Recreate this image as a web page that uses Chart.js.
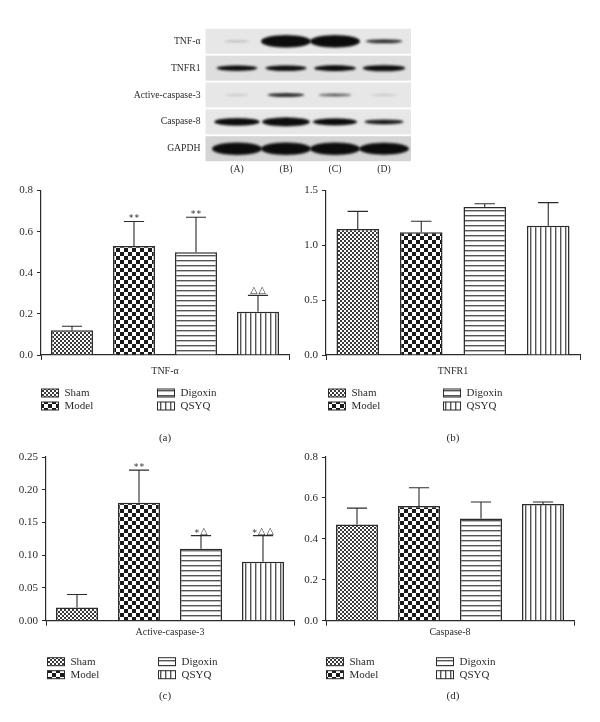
<!DOCTYPE html>
<html><head><meta charset="utf-8">
<script src="https://cdn.jsdelivr.net/npm/chart.js@4"></script>
<style>
html,body{margin:0;padding:0;background:#fff;width:600px;height:722px;overflow:hidden}
canvas{position:absolute;display:block;filter:blur(0.3px)}
</style></head><body>
<canvas id="blot" style="left:100px;top:10px" width="330" height="170"></canvas>
<canvas id="a" style="left:0;top:180px" width="330" height="265"></canvas>
<canvas id="b" style="left:300px;top:180px" width="300" height="265"></canvas>
<canvas id="c" style="left:0;top:445px" width="330" height="270"></canvas>
<canvas id="d" style="left:300px;top:445px" width="300" height="270"></canvas>
<script>
// ---- data ----
const groups = ["Sham", "Model", "Digoxin", "QSYQ"];
const lanes = ["(A)", "(B)", "(C)", "(D)"];
const proteins = ["TNF-α", "TNFR1", "Active-caspase-3", "Caspase-8", "GAPDH"];
const bandTNFa = [0.08, 1.0, 1.0, 0.42];
const bandTNFR1 = [0.55, 0.58, 0.6, 0.62];
const bandActive = [0.02, 0.42, 0.3, 0.03];
const bandCasp8 = [0.72, 0.8, 0.68, 0.5];
const bandGAPDH = [1.0, 1.0, 1.0, 0.98];
const meanA = [0.12, 0.53, 0.50, 0.21];
const errA = [0.14, 0.65, 0.67, 0.29];
const markA = ["", "**", "**", "△△"];
const meanB = [1.15, 1.12, 1.35, 1.18];
const errB = [1.31, 1.22, 1.38, 1.39];
const markB = ["", "", "", ""];
const meanC = [0.02, 0.18, 0.11, 0.09];
const errC = [0.04, 0.23, 0.13, 0.13];
const markC = ["", "**", "*△", "*△△"];
const meanD = [0.47, 0.56, 0.50, 0.57];
const errD = [0.55, 0.65, 0.58, 0.58];
const markD = ["", "", "", ""];

const FONT = "'Liberation Serif', serif";
const INK = "#2b2b2b";

// ---- fill patterns ----
function pattern(w, h, draw) {
  const c = document.createElement("canvas"); c.width = w; c.height = h;
  const x = c.getContext("2d"); x.fillStyle = "#fff"; x.fillRect(0, 0, w, h);
  x.fillStyle = "#1a1a1a"; draw(x);
  return document.createElement("canvas").getContext("2d").createPattern(c, "repeat");
}
const fills = [
  pattern(4, 4, x => { x.fillStyle = "#3a3a3a"; x.fillRect(0, 0, 2, 2); x.fillRect(2, 2, 2, 2); }),
  pattern(8, 8, x => { x.fillRect(0, 0, 4, 4); x.fillRect(4, 4, 4, 4); }),
  pattern(1, 5, x => { x.fillStyle = "#555"; x.fillRect(0, 0, 1, 1); x.fillStyle = "#bbb"; x.fillRect(0, 1, 1, 1); }),
  pattern(5, 1, x => { x.fillStyle = "#555"; x.fillRect(0, 0, 1, 1); x.fillStyle = "#bbb"; x.fillRect(1, 0, 1, 1); })
];

// ---- plugins ----
const errorBars = {
  id: "errorBars",
  afterDatasetsDraw(ch, _a, o) {
    const g = ch.ctx, y = ch.scales.y;
    g.save();
    ch.data.datasets.forEach((ds, i) => {
      const el = ch.getDatasetMeta(i).data[0];
      const top = y.getPixelForValue(o.tops[i]);
      const half = el.width * 0.24;
      g.strokeStyle = INK; g.lineWidth = 1.1;
      g.beginPath();
      g.moveTo(el.x, el.y); g.lineTo(el.x, top);
      g.moveTo(el.x - half, top); g.lineTo(el.x + half, top);
      g.stroke();
      const chars = Array.from(o.marks[i]);
      if (chars.length) {
        g.fillStyle = INK; g.textAlign = "left"; g.textBaseline = "alphabetic";
        g.font = "9.5px 'DejaVu Sans', " + FONT;
        const gap = 1;
        const total = chars.reduce((s, c) => s + g.measureText(c).width + gap, -gap);
        let px = el.x - total / 2;
        chars.forEach(c => {
          g.fillText(c, px, c === "*" ? top : top - 2);
          px += g.measureText(c).width + gap;
        });
      }
    });
    g.restore();
  }
};
const twoColumnLegend = {
  id: "twoColumnLegend",
  afterDraw(ch, _a, o) {
    const g = ch.ctx;
    g.save();
    g.font = "11px " + FONT; g.textBaseline = "middle"; g.textAlign = "left";
    ch.data.datasets.forEach((ds, i) => {
      const col = i < 2 ? o.x1 : o.x2;
      const yc = ch.chartArea.bottom + o.dy + (i % 2) * 13;
      g.fillStyle = ds.backgroundColor;
      g.fillRect(col, yc - 4, 17, 8);
      g.strokeStyle = INK; g.lineWidth = 1;
      g.strokeRect(col + .5, yc - 4, 17, 8);
      g.fillStyle = INK;
      g.fillText(ds.label, col + 23.5, yc);
    });
    g.restore();
  }
};
const captionShift = {
  id: "captionShift",
  afterLayout(ch, _a, o) {
    ch.titleBlock.left += o.dx;
    ch.titleBlock.right += o.dx;
  }
};

function barPanel(id, opt) {
  const el = document.getElementById(id);
  new Chart(el, {
    type: "bar",
    plugins: [errorBars, twoColumnLegend, captionShift],
    data: {
      labels: [opt.name],
      datasets: groups.map((g, i) => ({
        label: g, data: [opt.mean[i]],
        backgroundColor: fills[i], borderColor: INK, borderWidth: 1.5,
        categoryPercentage: 1, barPercentage: opt.barPct
      }))
    },
    options: {
      responsive: false, animation: false, devicePixelRatio: 1,
      layout: { autoPadding: false, padding: { top: opt.top, right: el.width - opt.right, left: 0, bottom: 0 } },
      plugins: {
        legend: { display: false }, tooltip: { enabled: false },
        title: { display: true, text: opt.caption, position: "bottom", fullSize: false, color: INK,
                 font: { family: FONT, size: 11, weight: "normal" },
                 padding: { top: opt.capTop, bottom: opt.capBottom } },
        errorBars: { tops: opt.err, marks: opt.mark },
        twoColumnLegend: { x1: opt.lx1, x2: opt.lx2, dy: opt.ldy },
        captionShift: { dx: opt.capDx }
      },
      scales: {
        x: {
          grid: { display: true, drawOnChartArea: false, tickLength: 5, color: INK, lineWidth: 1 },
          border: { color: INK, width: 1.2 },
          ticks: { color: INK, font: { family: FONT, size: 10 }, padding: opt.xPad, maxRotation: 0 },
          afterFit: s => { s.height = 22; }
        },
        y: {
          min: 0, max: opt.max,
          grid: { display: true, drawOnChartArea: false, tickLength: 4, color: INK, lineWidth: 1 },
          border: { color: INK, width: 1.2 },
          ticks: { color: INK, font: { family: FONT, size: 11 }, stepSize: opt.step, padding: 4,
                   callback: v => v.toFixed(opt.dec) },
          afterFit: s => { s.width = opt.left; }
        }
      }
    }
  });
}

barPanel("a", { name: "TNF-α", mean: meanA, err: errA, mark: markA, caption: "(a)", max: 0.8, step: 0.2, dec: 1,
  left: 41, right: 289, top: 10, barPct: 0.677, lx1: 41, lx2: 157, ldy: 38, capTop: 54.8, capBottom: 0, xPad: 5, capDx: 0 });
barPanel("b", { name: "TNFR1", mean: meanB, err: errB, mark: markB, caption: "(b)", max: 1.5, step: 0.5, dec: 1,
  left: 26, right: 280, top: 8, barPct: 0.67, lx1: 28, lx2: 143, ldy: 38, capTop: 54.8, capBottom: 0, xPad: 5, capDx: 0 });
barPanel("c", { name: "Active-caspase-3", mean: meanC, err: errC, mark: markC, caption: "(c)", max: 0.25, step: 0.05, dec: 2,
  left: 46, right: 294, top: 12, barPct: 0.677, lx1: 47, lx2: 158, ldy: 41, capTop: 46.4, capBottom: 12.7, xPad: 1, capDx: -5 });
barPanel("d", { name: "Caspase-8", mean: meanD, err: errD, mark: markD, caption: "(d)", max: 0.8, step: 0.2, dec: 1,
  left: 26, right: 274, top: 12, barPct: 0.677, lx1: 26, lx2: 136, ldy: 41, capTop: 46.4, capBottom: 12.7, xPad: 1, capDx: 3 });

// ---- western blot ----
function bandSprite(v) {
  const w = 24 + 26 * Math.min(1, v * 1.15), h = 1.5 + 9 * v * v + 2 * v;
  const c = document.createElement("canvas");
  c.width = Math.ceil(w + 10); c.height = Math.ceil(h + 10);
  const x = c.getContext("2d");
  x.filter = "blur(1.1px)";
  x.fillStyle = "rgba(12,12,12," + Math.min(1, 0.15 + v * 1.6) + ")";
  x.beginPath(); x.ellipse(c.width / 2, c.height / 2, w / 2, h / 2, 0, 0, 7); x.fill();
  return c;
}
const bandRows = [bandTNFa, bandTNFR1, bandActive, bandCasp8, bandGAPDH];
const blotPanels = {
  id: "blotPanels",
  beforeDatasetsDraw(ch) {
    const g = ch.ctx, X = ch.scales.x, Y = ch.scales.y;
    g.save();
    proteins.forEach((p, i) => {
      const yc = Y.getPixelForValue(i);
      g.fillStyle = i === 1 ? "#dedede" : i === 4 ? "#d4d4d4" : "#e7e7e7";
      g.fillRect(X.left - 7, yc - 12.5, X.width + 9.5, 25);
    });
    g.restore();
  }
};
new Chart(document.getElementById("blot"), {
  type: "scatter",
  plugins: [blotPanels],
  data: { datasets: [{
    data: bandRows.flatMap((r, i) => r.map((v, j) => ({ x: lanes[j], y: proteins[i], v }))),
    pointStyle: c => c.raw ? bandSprite(c.raw.v) : "circle",
    pointRadius: 10
  }] },
  options: {
    responsive: false, animation: false, devicePixelRatio: 1,
    layout: { autoPadding: false, padding: { top: 8.5, left: 0, right: 330 - 308.5, bottom: 0 } },
    plugins: { legend: { display: false }, tooltip: { enabled: false } },
    scales: {
      x: { type: "category", labels: lanes, offset: true, grid: { display: false, drawTicks: false }, border: { display: false },
           ticks: { color: INK, font: { family: FONT, size: 9.7 }, padding: 1 },
           afterFit: s => { s.height = 16.5; } },
      y: { type: "category", labels: proteins, offset: true, grid: { display: false, drawTicks: false }, border: { display: false },
           ticks: { color: INK, font: { family: FONT, size: 9.7 }, padding: 12 },
           afterFit: s => { s.width = 112.5; } }
    }
  }
});
</script>
</body></html>
